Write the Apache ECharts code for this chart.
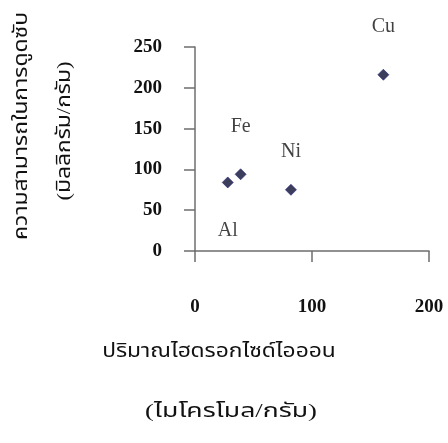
<!DOCTYPE html>
<html>
<head>
<meta charset="utf-8">
<script src="https://cdn.jsdelivr.net/npm/echarts@6/dist/echarts.min.js"></script>
<style>
html, body { margin: 0; padding: 0; background: #ffffff; }
#chart { width: 448px; height: 443px; }
</style>
</head>
<body>
<div id="chart"></div>
<script>
// Hydroxide ion content vs. adsorption capacity for each metal
const metals = ['Al', 'Fe', 'Ni', 'Cu'];
const hydroxide = [28, 39, 82, 161];      // µmol/g
const capacity = [84, 94, 75, 216];       // mg/g
const labelSide = ['bottom', 'top', 'top', 'top'];
const labelGap = [32, 32, 22, 32];

const xTicks = [0, 100, 200];
const yTicks = [0, 50, 100, 150, 200, 250];

const serif = '"Liberation Serif", "Times New Roman", serif';
const thai = '"Liberation Serif", "Noto Sans Thai", "Loma", serif';

const points = metals.map((m, i) => ({
  name: m,
  value: [hydroxide[i], capacity[i]],
  label: { position: labelSide[i], distance: labelGap[i] }
}));

const chart = echarts.init(document.getElementById('chart'));
chart.setOption({
  backgroundColor: '#ffffff',
  animation: false,
  grid: { left: 195, right: 19, top: 47, bottom: 192, containLabel: false, outerBoundsMode: 'none' },
  xAxis: {
    type: 'value',
    min: xTicks[0], max: xTicks[xTicks.length - 1], interval: 100,
    splitLine: { show: false },
    axisLine: { lineStyle: { color: '#6e6e6e', width: 1.5 } },
    axisTick: { show: true, inside: false, length: 11, lineStyle: { color: '#6e6e6e', width: 1.5 } },
    axisLabel: { margin: 47, fontFamily: serif, fontWeight: 'bold', fontSize: 19, color: '#111' }
  },
  yAxis: {
    type: 'value',
    min: yTicks[0], max: yTicks[yTicks.length - 1], interval: 50,
    splitLine: { show: false },
    axisLine: { show: true, lineStyle: { color: '#6e6e6e', width: 1.5 } },
    axisTick: { show: true, inside: false, length: 11, lineStyle: { color: '#6e6e6e', width: 1.5 } },
    axisLabel: { margin: 33, fontFamily: serif, fontWeight: 'bold', fontSize: 19, color: '#111' }
  },
  series: [{
    type: 'scatter',
    symbol: 'diamond',
    symbolSize: 11,
    itemStyle: { color: '#0c0c33', borderColor: '#23237a', borderWidth: 0.8 },
    label: {
      show: true,
      formatter: '{b}',
      fontFamily: serif,
      fontSize: 20,
      color: '#111'
    },
    data: points
  }],
  graphic: [
    {
      type: 'text', x: 22, y: 126, rotation: Math.PI / 2, scaleX: 1.2,
      style: { text: 'ความสามารถในการดูดซับ', font: '19px ' + thai, fill: '#111', textAlign: 'center', textVerticalAlign: 'middle' }
    },
    {
      type: 'text', x: 65, y: 131, rotation: Math.PI / 2, scaleX: 1.2,
      style: { text: '(มิลลิกรัม/กรัม)', font: '19px ' + thai, fill: '#111', textAlign: 'center', textVerticalAlign: 'middle' }
    },
    {
      type: 'text', x: 219, y: 352, scaleX: 1.2,
      style: { text: 'ปริมาณไฮดรอกไซด์ไอออน', font: '19px ' + thai, fill: '#111', textAlign: 'center', textVerticalAlign: 'middle' }
    },
    {
      type: 'text', x: 231, y: 412, scaleX: 1.4,
      style: { text: '(ไมโครโมล/กรัม)', font: '19px ' + thai, fill: '#111', textAlign: 'center', textVerticalAlign: 'middle' }
    }
  ]
});
</script>
</body>
</html>
